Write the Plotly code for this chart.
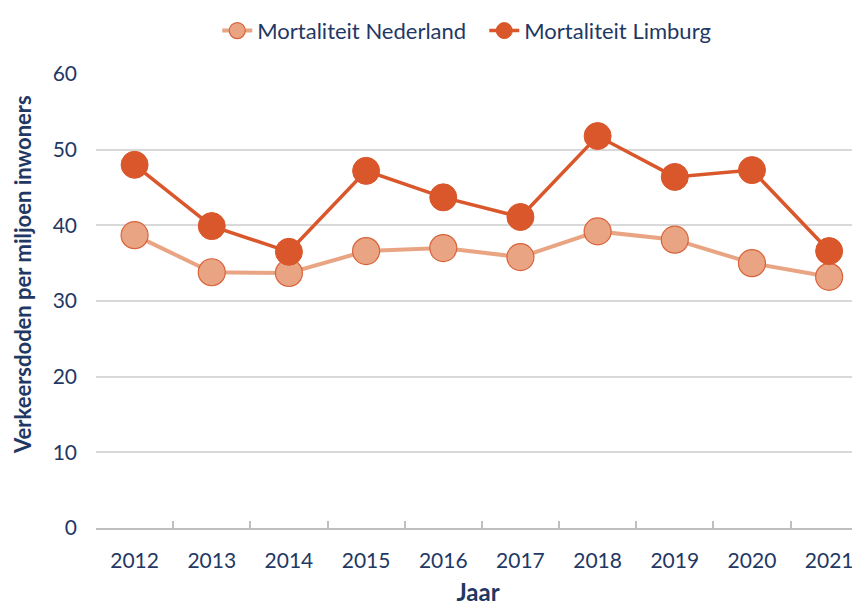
import plotly.graph_objects as go

years = ["2012", "2013", "2014", "2015", "2016", "2017", "2018", "2019", "2020", "2021"]
nederland = [38.7, 33.8, 33.7, 36.6, 37.0, 35.8, 39.2, 38.1, 35.0, 33.2]
limburg = [48.0, 39.9, 36.5, 47.2, 43.7, 41.1, 51.8, 46.4, 47.3, 36.6]
y_ticks = [0, 10, 20, 30, 40, 50, 60]

navy = "#1F3864"
font_family = "Lato, 'Open Sans', sans-serif"

fig = go.Figure()
fig.add_trace(go.Scatter(
    x=years, y=nederland, name="Mortaliteit Nederland", mode="lines+markers",
    line=dict(color="#E9A583", width=4),
    marker=dict(size=27, color="#E9A583", line=dict(color="#D9623A", width=1.2)),
))
fig.add_trace(go.Scatter(
    x=years, y=limburg, name="Mortaliteit Limburg", mode="lines+markers",
    line=dict(color="#D9572B", width=3.5),
    marker=dict(size=27, color="#D9572B", line=dict(color="#D9572B", width=1)),
))

# page has an 8px body margin, so the figure is offset by 8px
fig.update_layout(
    width=852, height=598,
    margin=dict(l=88, r=0, t=66, b=78, autoexpand=False),
    paper_bgcolor="white", plot_bgcolor="white",
    font=dict(family=font_family, color=navy, size=20),
    legend=dict(orientation="h", x=0.559, xref="container", xanchor="center",
                y=0.997, yanchor="top", yref="container",
                font=dict(size=22, color=navy), traceorder="normal",
                entrywidth=222, entrywidthmode="pixels"),
    showlegend=True,
    annotations=[dict(
        text="<b>Verkeersdoden per miljoen inwoners</b>",
        xref="paper", yref="paper", x=0, y=(528 - 275) / 454,
        xanchor="center", yanchor="middle", xshift=-74, textangle=-90,
        showarrow=False, font=dict(size=22, color=navy),
    )],
)

fig.update_xaxes(
    type="category", range=[-0.5, 9.4], automargin=False,
    showline=True, linecolor="#BFBFBF", linewidth=1.5,
    ticks="inside", tickson="boundaries", ticklen=7, tickcolor="#BFBFBF", tickwidth=1.5,
    showgrid=False, tickfont=dict(size=21, color=navy), ticklabelstandoff=13,
    title=dict(text="<b>Jaar</b>", font=dict(size=24, color=navy), standoff=19),
)
fig.update_yaxes(
    range=[0, 60], tickvals=y_ticks, automargin=False,
    showgrid=True, gridcolor="#D9D9D9", gridwidth=1.5,
    zeroline=False, showline=False,
    tickfont=dict(size=21, color=navy), ticklabelstandoff=18,
)

fig.write_html("out.html")
